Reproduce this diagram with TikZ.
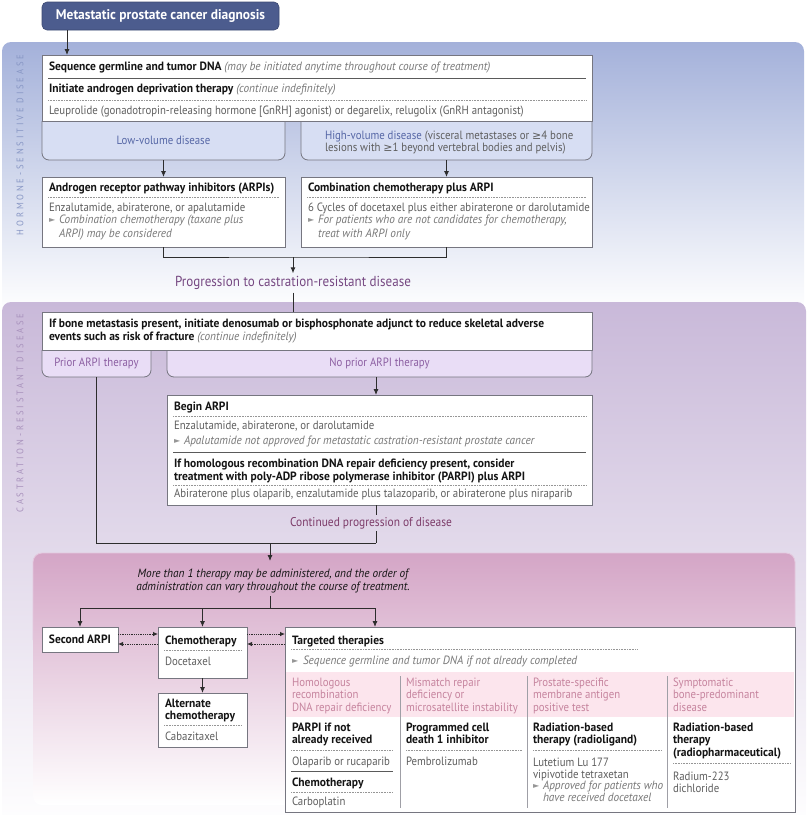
\documentclass[tikz,border=0pt]{standalone}
\usepackage{fontspec}
\setmainfont{PT Sans}[UprightFeatures={FakeStretch=0.9}, BoldFeatures={FakeStretch=0.96}, ItalicFeatures={FakeStretch=0.94}, BoldItalicFeatures={FakeStretch=0.94}]
\newfontfamily\symf{DejaVu Sans}
\usetikzlibrary{arrows.meta}
\definecolor{dkblue}{RGB}{76,92,142}
\definecolor{regblue}{RGB}{164,177,218}
\definecolor{lblue}{RGB}{215,222,243}
\definecolor{bluetxt}{RGB}{86,103,166}
\definecolor{vblue}{RGB}{135,150,196}
\definecolor{regpurple}{RGB}{201,185,217}
\definecolor{lpurple}{RGB}{233,221,246}
\definecolor{purtxt}{RGB}{140,95,162}
\definecolor{progtxt}{RGB}{118,72,130}
\definecolor{contxt}{RGB}{125,60,105}
\definecolor{vpurple}{RGB}{168,145,188}
\definecolor{regpink}{RGB}{212,165,198}
\definecolor{pinkedge}{RGB}{228,200,222}
\definecolor{pinkband}{RGB}{252,229,237}
\definecolor{pinktxt}{RGB}{198,132,158}
\definecolor{graytxt}{RGB}{95,95,95}
\definecolor{itgray}{RGB}{120,120,120}
\definecolor{titleblack}{RGB}{20,20,20}
\definecolor{bordergray}{RGB}{118,118,128}
\definecolor{linegray}{RGB}{45,45,45}
\definecolor{sepgray}{RGB}{90,90,90}
\definecolor{dotgray}{RGB}{150,150,150}
\definecolor{trigray}{RGB}{150,150,150}
\newcommand\fs{\fontsize{12}{13}\selectfont}
\newcommand\gesym{{\symf\fontsize{11}{13}\selectfont ≥}}
\begin{document}
\begin{tikzpicture}[x=1pt,y=-1pt,
  every node/.style={inner sep=0pt, outer sep=0pt},
  wbox/.style={draw=bordergray, fill=white, line width=0.8, anchor=north west},
  lbox/.style={draw=bordergray, fill=lblue, line width=0.8, rounded corners=7},
  pbox/.style={draw=bordergray, fill=lpurple, line width=0.8, rounded corners=7},
  area/.style={anchor=north west},
  tx/.style={anchor=base west, font=\fs, text=graytxt},
  tb/.style={anchor=base west, font=\fs\bfseries, text=titleblack},
  ti/.style={anchor=base west, font=\fs\itshape, text=itgray},
  hd/.style={anchor=base west, font=\fs, text=pinktxt},
  tri/.style={anchor=base west, font=\symf\fontsize{8}{9}\selectfont, text=trigray},
  vlab/.style={rotate=90, font=\fontsize{9.5}{11}\selectfont\addfontfeature{LetterSpace=30}},
  ln/.style={draw=linegray, line width=0.9},
  arr/.style={ln, -{Latex[length=6,width=5]}},
  darr/.style={draw=linegray, line width=0.8, densely dotted, -{Latex[length=5,width=4.5]}},
  solidsep/.style={draw=sepgray, line width=1},
  dotsep/.style={draw=dotgray, line width=0.6, densely dotted},
  colsep/.style={draw=bordergray!70, line width=0.8},
]
\useasboundingbox (0,0) rectangle (810,815);
% ---------- regions
\shade[top color=regblue, middle color=regblue!72!white, bottom color=white, rounded corners=9] (2,42) rectangle (804,312);
\shade[top color=regpurple, middle color=regpurple!70!white, bottom color=white, rounded corners=9] (2,302) rectangle (806,830);
\shade[top color=regpink, bottom color=white, rounded corners=9] (33,553) rectangle (795,805);
\draw[pinkedge, line width=0.8, rounded corners=9] (33,640) -- (33,553) -- (795,553) -- (795,640);
\node[vlab, text=vblue] (vl1) at (20,145) {HORMONE-SENSITIVE DISEASE};
\node[vlab, text=vpurple] (vl2) at (20,413) {CASTRATION-RESISTANT DISEASE};
% ---------- top
\node[fill=dkblue, draw=dkblue!80!black, line width=0.6, rounded corners=5, minimum width=237, minimum height=28, anchor=north west, text=white, font=\fontsize{14}{16}\selectfont\bfseries] (diag) at (42,2) {Metastatic prostate cancer diagnosis};
% ---------- hormone-sensitive
\node[area, minimum width=243, minimum height=39] (low) at (42,121) {};
\draw[lbox] (low.north west) -- (low.south west) -- (low.south east) -- (low.north east);
\node[area, minimum width=291, minimum height=39] (high) at (301,121) {};
\draw[lbox] (high.north west) -- (high.south west) -- (high.south east) -- (high.north east);
\node[wbox, minimum width=550, minimum height=66] (seq) at (42,55) {};
\draw[arr] ([xshift=25]diag.south west) -- ([xshift=25]seq.north west);
\node[tb] (s1) at (49,70.5) {Sequence germline and tumor DNA {\mdseries\itshape\color{itgray}(may be initiated anytime throughout course of treatment)}};
\draw[solidsep] ([shift={(6,23)}]seq.north west) -- ([shift={(-6,23)}]seq.north east);
\node[tb] (s2) at (49,92.5) {Initiate androgen deprivation therapy {\mdseries\itshape\color{itgray}(continue indefinitely)}};
\draw[dotsep] ([shift={(6,45)}]seq.north west) -- ([shift={(-6,45)}]seq.north east);
\node[tx] (s3) at (49,114) {Leuprolide (gonadotropin-releasing hormone [GnRH] agonist) or degarelix, relugolix (GnRH antagonist)};
\node[font=\fs, text=bluetxt] (lowt) at (low.center) {Low-volume disease};
\node[tx] (hi1) at (325,139) {{\color{bluetxt}High-volume disease} (visceral metastases or \gesym4 bone};
\node[tx] (hi2) at (325,151.5) {lesions with \gesym1 beyond vertebral bodies and pelvis)};
\node[wbox, minimum width=243, minimum height=70] (arpi) at (42,177) {};
\draw[arr] (low.south) -- (arpi.north);
\node[tb] (a1) at (49,191) {Androgen receptor pathway inhibitors (ARPIs)};
\draw[dotsep] ([shift={(6,20)}]arpi.north west) -- ([shift={(-6,20)}]arpi.north east);
\node[tx] (a2) at (49,211) {Enzalutamide, abiraterone, or apalutamide};
\node[tri] (a3t) at (49,222.5) {►};
\node[ti] (a3) at (59,223.5) {Combination chemotherapy (taxane plus};
\node[ti] (a4) at (59,237) {ARPI) may be considered};
\node[wbox, minimum width=291, minimum height=70] (comb) at (301,177) {};
\draw[arr] (high.south) -- (comb.north);
\node[tb] (c1) at (308,191) {Combination chemotherapy plus ARPI};
\draw[dotsep] ([shift={(6,20)}]comb.north west) -- ([shift={(-6,20)}]comb.north east);
\node[tx] (c2) at (308,211) {6 Cycles of docetaxel plus either abiraterone or darolutamide};
\node[tri] (c3t) at (308,222.5) {►};
\node[ti] (c3) at (318,223.5) {For patients who are not candidates for chemotherapy,};
\node[ti] (c4) at (318,237) {treat with ARPI only};
\coordinate (j1) at (293,257);
\draw[ln] (arpi.south) |- (j1) -| (comb.south);
\node[font=\fontsize{14.5}{16}\selectfont, text=progtxt, inner sep=3] (prog) at (293,283) {Progression to castration-resistant disease};
\draw[arr] (j1) -- (prog.north);
% ---------- castration-resistant
\node[area, minimum width=109, minimum height=27] (prior) at (42,350) {};
\draw[pbox] (prior.north west) -- (prior.south west) -- (prior.south east) -- (prior.north east);
\node[area, minimum width=425, minimum height=27] (noprior) at (167,350) {};
\draw[pbox] (noprior.north west) -- (noprior.south west) -- (noprior.south east) -- (noprior.north east);
\node[wbox, minimum width=550, minimum height=38] (bone) at (42,312) {};
\draw[ln] (prog.south) -- (prog.south |- bone.north);
\node[tb] (b1) at (49,327.5) {If bone metastasis present, initiate denosumab or bisphosphonate adjunct to reduce skeletal adverse};
\node[tb] (b2) at (49,340.5) {events such as risk of fracture {\mdseries\itshape\color{itgray}(continue indefinitely)}};
\node[font=\fs, text=purtxt] (priort) at (prior.center) {Prior ARPI therapy};
\node[font=\fs, text=purtxt] (noprit) at (noprior.center) {No prior ARPI therapy};
\node[wbox, minimum width=425, minimum height=110] (begin) at (167,395) {};
\draw[arr] ([xshift=-3.5]noprior.south) -- ([xshift=-3.5]begin.north);
\node[tb] (g1) at (174,410.5) {Begin ARPI};
\draw[dotsep] ([shift={(6,21)}]begin.north west) -- ([shift={(-6,21)}]begin.north east);
\node[tx] (g2) at (174,429) {Enzalutamide, abiraterone, or darolutamide};
\node[tri] (g3t) at (174,443) {►};
\node[ti] (g3) at (184,444) {Apalutamide not approved for metastatic castration-resistant prostate cancer};
\draw[solidsep] ([shift={(6,57)}]begin.north west) -- ([shift={(-6,57)}]begin.north east);
\node[tb] (g4) at (174,467) {If homologous recombination DNA repair deficiency present, consider};
\node[tb] (g5) at (174,480.5) {treatment with poly-ADP ribose polymerase inhibitor (PARPI) plus ARPI};
\draw[dotsep] ([shift={(6,90)}]begin.north west) -- ([shift={(-6,90)}]begin.north east);
\node[tx] (g6) at (174,497.5) {Abiraterone plus olaparib, enzalutamide plus talazoparib, or abiraterone plus niraparib};
\node[font=\fontsize{12.7}{14}\selectfont, text=contxt, inner sep=2.5] (cont) at (371,523) {Continued progression of disease};
\coordinate (j2) at (376,543);
\draw[ln] ([xshift=-3.5]begin.south) -- ([xshift=-3.5]begin.south |- cont.north);
\draw[ln] (j2 |- cont.south) -- (j2);
\draw[ln] (prior.south) |- (j2);
\coordinate (j3) at (270,543);
\coordinate (j4) at (270,561);
\draw[arr] (j3) -- (j4);
% ---------- later lines
\node[anchor=base, font=\fs\itshape, text=titleblack] (m1) at (273,577) {More than 1 therapy may be administered, and the order of};
\node[anchor=base, font=\fs\itshape, text=titleblack] (m2) at (273,590) {administration can vary throughout the course of treatment.};
\coordinate (j5) at (270,596);
\coordinate (j6) at (270,608);
\coordinate (j7) at (375,608);
\draw[ln] (j5) -- (j6);
\node[wbox, minimum width=76, minimum height=25] (sarpi) at (42,627) {};
\node[font=\fs\bfseries, text=titleblack] (sarpit) at (sarpi.center) {Second ARPI};
\node[wbox, minimum width=89, minimum height=51] (chemo) at (158,627) {};
\node[wbox, minimum width=89, minimum height=54] (alt) at (158,693) {};
\node[wbox, minimum width=510, minimum height=185] (targ) at (285,627) {};
\draw[ln] (sarpi.north |- j6) -- (j7);
\draw[arr] (sarpi.north |- j6) -- (sarpi.north);
\draw[arr] (chemo.north |- j6) -- (chemo.north);
\draw[arr] (j7) -- (j7 |- targ.north);
\draw[darr] ([shift={(0,7)}]sarpi.north east) -- ([shift={(0,7)}]chemo.north west);
\draw[darr] ([shift={(0,17)}]chemo.north west) -- ([shift={(0,17)}]sarpi.north east);
\draw[darr] ([shift={(0,7)}]chemo.north east) -- ([shift={(0,7)}]targ.north west);
\draw[darr] ([shift={(0,17)}]targ.north west) -- ([shift={(0,17)}]chemo.north east);
\draw[arr] (chemo.south) -- (alt.north);
\node[tb] (ch1) at (165,644) {Chemotherapy};
\draw[dotsep] ([shift={(6,23)}]chemo.north west) -- ([shift={(-6,23)}]chemo.north east);
\node[tx] (ch2) at (165,665) {Docetaxel};
\node[tb] (al1) at (165,707) {Alternate};
\node[tb] (al2) at (165,719) {chemotherapy};
\draw[dotsep] ([shift={(6,32)}]alt.north west) -- ([shift={(-6,32)}]alt.north east);
\node[tx] (al3) at (165,740) {Cabazitaxel};
% ---------- targeted
\fill[pinkband] ([shift={(1,45)}]targ.north west) rectangle ([shift={(-1,90)}]targ.north east);
\node[tb] (tt1) at (292,644) {Targeted therapies};
\draw[dotsep] ([shift={(6,22.5)}]targ.north west) -- ([shift={(352,22.5)}]targ.north west);
\node[tri] (tt2t) at (292,663.5) {►};
\node[ti] (tt2) at (303,664.5) {Sequence germline and tumor DNA if not already completed};
\draw[colsep] ([shift={(115,49)}]targ.north west) -- ([shift={(115,181)}]targ.north west);
\draw[colsep] ([shift={(242,49)}]targ.north west) -- ([shift={(242,181)}]targ.north west);
\draw[colsep] ([shift={(382,49)}]targ.north west) -- ([shift={(382,181)}]targ.north west);
% column 1
\node[hd] (h11) at (292,686) {Homologous};
\node[hd] (h12) at (292,698.5) {recombination};
\node[hd] (h13) at (292,711) {DNA repair deficiency};
\node[tb] (k11) at (292,731) {PARPI if not};
\node[tb] (k12) at (292,743.5) {already received};
\draw[dotsep] ([shift={(6,123)}]targ.north west) -- ([shift={(108,123)}]targ.north west);
\node[tx] (k13) at (292,765) {Olaparib or rucaparib};
\draw[solidsep] ([shift={(6,144)}]targ.north west) -- ([shift={(108,144)}]targ.north west);
\node[tb] (k14) at (292,786) {Chemotherapy};
\draw[dotsep] ([shift={(6,165)}]targ.north west) -- ([shift={(108,165)}]targ.north west);
\node[tx] (k15) at (292,805) {Carboplatin};
% column 2
\node[hd] (h21) at (406,686) {Mismatch repair};
\node[hd] (h22) at (406,698.5) {deficiency or};
\node[hd] (h23) at (406,711) {microsatellite instability};
\node[tb] (k21) at (406,731) {Programmed cell};
\node[tb] (k22) at (406,743.5) {death 1 inhibitor};
\draw[dotsep] ([shift={(121,123)}]targ.north west) -- ([shift={(237,123)}]targ.north west);
\node[tx] (k23) at (406,765) {Pembrolizumab};
% column 3
\node[hd] (h31) at (533,686) {Prostate-specific};
\node[hd] (h32) at (533,698.5) {membrane antigen};
\node[hd] (h33) at (533,711) {positive test};
\node[tb] (k31) at (533,731) {Radiation-based};
\node[tb] (k32) at (533,743.5) {therapy (radioligand)};
\draw[dotsep] ([shift={(248,123)}]targ.north west) -- ([shift={(377,123)}]targ.north west);
\node[tx] (k33) at (533,766) {Lutetium Lu 177};
\node[tx] (k34) at (533,778) {vipivotide tetraxetan};
\node[tri] (k35t) at (533,788.5) {►};
\node[ti] (k35) at (543,789.5) {Approved for patients who};
\node[ti] (k36) at (543,801.5) {have received docetaxel};
% column 4
\node[hd] (h41) at (673,686) {Symptomatic};
\node[hd] (h42) at (673,698.5) {bone-predominant};
\node[hd] (h43) at (673,711) {disease};
\node[tb] (k41) at (673,731) {Radiation-based};
\node[tb] (k42) at (673,743.5) {therapy};
\node[tb] (k43) at (673,756) {(radiopharmaceutical)};
\draw[dotsep] ([shift={(388,136)}]targ.north west) -- ([shift={(505,136)}]targ.north west);
\node[tx] (k44) at (673,780) {Radium-223};
\node[tx] (k45) at (673,792.5) {dichloride};
\end{tikzpicture}
\end{document}
